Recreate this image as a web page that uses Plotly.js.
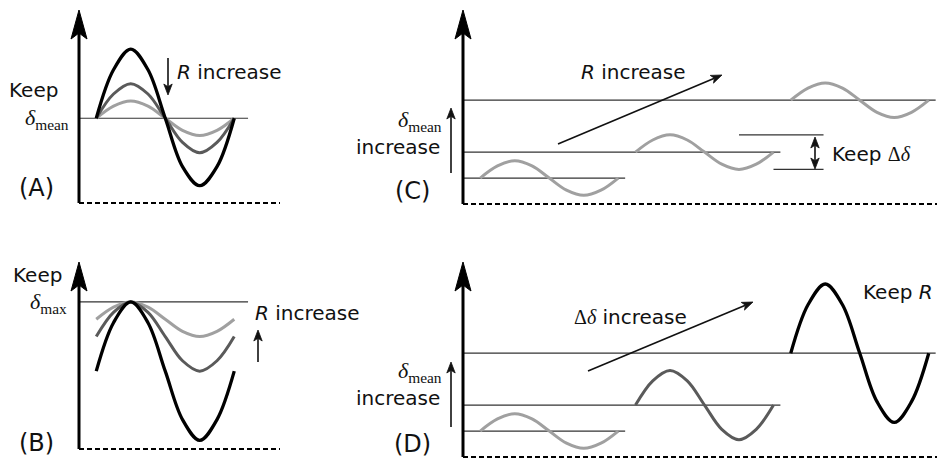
<!DOCTYPE html>
<html>
<head>
<meta charset="utf-8">
<script src="https://cdn.plot.ly/plotly-3.0.1.min.js"></script>
<style>html,body{margin:0;padding:0;background:#fff}#chart{width:937px;height:460px}</style>
</head>
<body>
<div id="chart"></div>
<script>
// ---------- data (time in quarter-periods, delta in arbitrary units) ----------
const phase = [0.5, 1, 1.5, 2, 2.5, 3, 3.5, 4, 4.5];
// Panel A: keep delta_mean, R increases (black -> dark -> light)
const A_mean = 4.9;
const A_black = [4.9, 7.7, 8.9, 7.7, 4.9, 2.1, 1.0, 2.1, 4.9];
const A_dark  = [4.9, 6.3, 6.9, 6.3, 4.9, 3.5, 2.9, 3.5, 4.9];
const A_light = [4.9, 5.6, 5.9, 5.6, 4.9, 4.2, 3.9, 4.2, 4.9];
const A_lineEnd = 4.9;
// Panel B: keep delta_max
const B_max = 8.5;
const B_black = [4.5, 7.3, 8.5, 7.3, 4.5, 1.7, 0.5, 1.7, 4.5];
const B_dark  = [6.5, 7.9, 8.5, 7.9, 6.5, 5.1, 4.5, 5.1, 6.5];
const B_light = [7.5, 8.2, 8.5, 8.2, 7.5, 6.8, 6.5, 6.8, 7.5];
const B_lineEnd = 4.9;
// Panels C and D: three cycles at increasing delta_mean
const t1 = [0.5, 1, 1.5, 2, 2.5, 3, 3.5, 4, 4.5];
const t2 = [5, 5.5, 6, 6.5, 7, 7.5, 8, 8.5, 9];
const t3 = [9.5, 10, 10.5, 11, 11.5, 12, 12.5, 13, 13.5];
const meanLevels = [1.5, 3, 6];
const levelEnds = [4.7, 9.2, 13.7];
const C_w1 = [1.5, 2.2, 2.5, 2.2, 1.5, 0.8, 0.5, 0.8, 1.5];
const C_w2 = [3, 3.7, 4, 3.7, 3, 2.3, 2, 2.3, 3];
const C_w3 = [6, 6.7, 7, 6.7, 6, 5.3, 5, 5.3, 6];
const C_bracketTop = {x: [8.0, 10.45], y: 4};
const C_bracketBot = {x: [9.0, 10.45], y: 2};
const D_w1 = [1.5, 2.2, 2.5, 2.2, 1.5, 0.8, 0.5, 0.8, 1.5];
const D_w2 = [3, 4.4, 5, 4.4, 3, 1.6, 1, 1.6, 3];
const D_w3 = [6, 8.8, 10, 8.8, 6, 3.2, 2, 3.2, 6];

// ---------- layout helpers ----------
const W = 937, H = 460, SX = 34.5, SY = 17.3;
const px = x => x / W;
const py = y => 1 - y / H;
function axes(ox, oy, l, r, t, b) {
  return [
    {domain: [px(l), px(r)], range: [(l - ox) / SX, (r - ox) / SX], visible: false, fixedrange: true},
    {domain: [py(b), py(t)], range: [(oy - b) / SY, (oy - t) / SY], visible: false, fixedrange: true}
  ];
}
const [xa1, ya1] = axes(79, 203, 70, 300, 0, 215);
const [xa2, ya2] = axes(79, 449, 70, 300, 232, 460);
const [xa3, ya3] = axes(463, 204, 455, 937, 0, 215);
const [xa4, ya4] = axes(463, 457, 455, 937, 232, 460);

const BLACK = '#000000', DARK = '#5a5a5a', LIGHT = '#a0a0a0', THIN = '#333333';

function wave(x, y, color, ax, w) {
  return {x: x, y: y, xaxis: 'x' + ax, yaxis: 'y' + ax, mode: 'lines',
    line: {color: color, width: w || 3, shape: 'spline', smoothing: 1},
    hoverinfo: 'skip', showlegend: false};
}
function hline(x0, x1, y, ax) {
  return {x: [x0, x1], y: [y, y], xaxis: 'x' + ax, yaxis: 'y' + ax, mode: 'lines',
    line: {color: THIN, width: 1.2}, hoverinfo: 'skip', showlegend: false};
}

const traces = [];
// A
traces.push(hline(0, A_lineEnd, A_mean, ''));
traces.push(wave(phase, A_light, LIGHT, ''));
traces.push(wave(phase, A_dark, DARK, ''));
traces.push(wave(phase, A_black, BLACK, '', 3.3));
// B
traces.push(hline(0, B_lineEnd, B_max, 2));
traces.push(wave(phase, B_light, LIGHT, 2));
traces.push(wave(phase, B_dark, DARK, 2));
traces.push(wave(phase, B_black, BLACK, 2, 3.3));
// C
meanLevels.forEach((lv, i) => traces.push(hline(0, levelEnds[i], lv, 3)));
traces.push(hline(C_bracketTop.x[0], C_bracketTop.x[1], C_bracketTop.y, 3));
traces.push(hline(C_bracketBot.x[0], C_bracketBot.x[1], C_bracketBot.y, 3));
traces.push(wave(t1, C_w1, LIGHT, 3));
traces.push(wave(t2, C_w2, LIGHT, 3));
traces.push(wave(t3, C_w3, LIGHT, 3));
// D
meanLevels.forEach((lv, i) => traces.push(hline(0, levelEnds[i], lv, 4)));
traces.push(wave(t1, D_w1, LIGHT, 4));
traces.push(wave(t2, D_w2, DARK, 4));
traces.push(wave(t3, D_w3, BLACK, 4, 3.3));

// ---------- frame: vertical arrow axes and dashed baselines ----------
const shapes = [];
function head(tx, ty, fx, fy, L, hw) {
  // arrowhead with tip (tx,ty) pointing away from (fx,fy); pixel coords
  const dx = tx - fx, dy = ty - fy, len = Math.hypot(dx, dy);
  const ux = dx / len, uy = dy / len, nx = -uy, ny = ux;
  const bx = tx - L * ux, by = ty - L * uy;
  const mx = tx - 0.75 * L * ux, my = ty - 0.75 * L * uy;
  shapes.push({type: 'path', xref: 'paper', yref: 'paper',
    path: `M${px(tx)},${py(ty)} L${px(bx + hw * nx)},${py(by + hw * ny)} L${px(mx)},${py(my)} L${px(bx - hw * nx)},${py(by - hw * ny)} Z`,
    fillcolor: '#111', line: {color: '#111', width: 0.8}});
  return [mx, my];
}
function frame(ax, tip, base, end) {
  shapes.push({type: 'line', xref: 'paper', yref: 'paper', x0: px(ax), x1: px(ax), y0: py(base), y1: py(tip + 20),
    line: {color: BLACK, width: 3}});
  shapes.push({type: 'path', xref: 'paper', yref: 'paper',
    path: `M${px(ax)},${py(tip)} L${px(ax + 8)},${py(tip + 29)} L${px(ax)},${py(tip + 23)} L${px(ax - 8)},${py(tip + 29)} Z`,
    fillcolor: BLACK, line: {color: BLACK, width: 1}});
  shapes.push({type: 'line', xref: 'paper', yref: 'paper', x0: px(ax), x1: px(end), y0: py(base), y1: py(base),
    line: {color: BLACK, width: 2, dash: '5px,3px'}});
}
frame(79, 10, 203, 280);
frame(79, 262, 449, 280);
frame(463, 10, 204, 937);
frame(463, 262, 457, 937);

// thin annotation arrows drawn as shapes: tail (x0,y0) -> tip (x1,y1), pixels
function arrow(x0, y0, x1, y1, both) {
  let [ex, ey] = head(x1, y1, x0, y0, 11, 4.2);
  let sx = x0, sy = y0;
  if (both) { [sx, sy] = head(x0, y0, x1, y1, 11, 4.2); }
  shapes.push({type: 'line', xref: 'paper', yref: 'paper', x0: px(sx), y0: py(sy), x1: px(ex), y1: py(ey),
    line: {color: '#111', width: 1.6}});
}
arrow(168, 58, 168, 95);          // A: R increase (down)
arrow(258, 362, 258, 330);        // B: R increase (up)
arrow(558, 144, 722, 75);         // C: R increase
arrow(451, 173, 451, 108);        // C: delta_mean increase
arrow(815, 137, 815, 169, true);  // C: keep delta-delta
arrow(588, 371, 753, 302);        // D: delta-delta increase
arrow(451, 427, 451, 362);        // D: delta_mean increase

// ---------- text ----------
const SANS = 'DejaVu Sans, Verdana, sans-serif';
const SERIF = 'Liberation Serif, Times New Roman, serif';
const ann = [];
function txt(text, x, y, xanchor, size, family) {
  ann.push({text: text, xref: 'paper', yref: 'paper', x: px(x), y: py(y), xanchor: xanchor || 'center', yanchor: 'middle',
    showarrow: false, font: {family: family || SANS, size: size || 20, color: '#111'}});
}
const dMean = '<i>δ</i><sub>mean</sub>';
const dMax = '<i>δ</i><sub>max</sub>';
const dd = '<span style="font-family:Liberation Serif">Δ<i>δ</i></span>';
// A
txt('Keep', 33, 90);
txt(dMean, 47, 119, 'center', 22, SERIF);
txt('<i>R</i> increase', 175, 72, 'left');
txt('(A)', 36, 188, 'center', 24);
// B
txt('Keep', 37, 275);
txt(dMax, 48, 303, 'center', 22, SERIF);
txt('<i>R</i> increase', 253, 313, 'left');
txt('(B)', 36, 443, 'center', 24);
// C
txt('<i>R</i> increase', 579, 72, 'left');
txt(dMean, 420, 121, 'center', 22, SERIF);
txt('increase', 442, 147, 'right');
txt('(C)', 412, 191, 'center', 24);
txt('Keep ' + dd, 830, 154, 'left');
// D
txt(dd + ' increase', 572, 317, 'left');
txt(dMean, 420, 372, 'center', 22, SERIF);
txt('increase', 442, 398, 'right');
txt('(D)', 412, 444, 'center', 24);
txt('Keep <i>R</i>', 861, 292, 'left');

const layout = {
  width: W, height: H, margin: {l: 0, r: 0, t: 0, b: 0},
  paper_bgcolor: '#ffffff', plot_bgcolor: 'rgba(0,0,0,0)', showlegend: false,
  xaxis: Object.assign(xa1, {anchor: 'y'}), yaxis: Object.assign(ya1, {anchor: 'x'}),
  xaxis2: Object.assign(xa2, {anchor: 'y2'}), yaxis2: Object.assign(ya2, {anchor: 'x2'}),
  xaxis3: Object.assign(xa3, {anchor: 'y3'}), yaxis3: Object.assign(ya3, {anchor: 'x3'}),
  xaxis4: Object.assign(xa4, {anchor: 'y4'}), yaxis4: Object.assign(ya4, {anchor: 'x4'}),
  shapes: shapes, annotations: ann, font: {family: SANS, color: '#111'}
};
Plotly.newPlot('chart', traces, layout, {displayModeBar: false, staticPlot: true});
</script>
</body>
</html>
